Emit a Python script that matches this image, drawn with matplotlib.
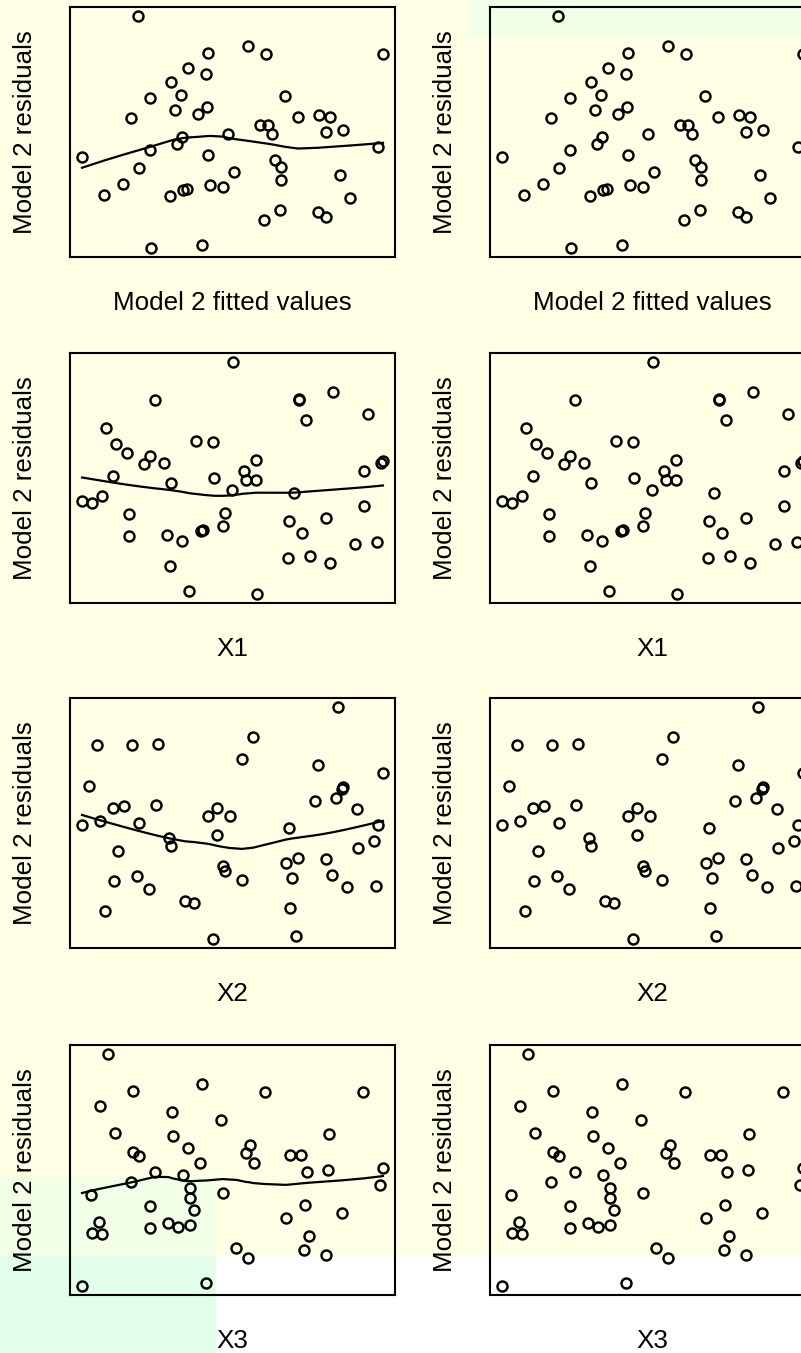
import numpy as np
import matplotlib
matplotlib.use("Agg")
import matplotlib.pyplot as plt
from matplotlib.patches import Rectangle

# Residuals of model 2 and the predictors they are plotted against
resid = np.array([
    2.52, 1.79, 1.92, 1.77, 1.77, 1.49, 1.36, 1.19, 0.94, 0.87,
    0.92, 0.64, 0.69, 0.55, 0.47, 0.33, 0.34, 0.15, 0.49, 0.53,
    0.50, 0.19, 0.24, 0.15, 0.09, -0.05, -0.16, -0.11, -0.31, -0.26,
    -0.53, -0.37, -0.51, -0.77, -0.61, -0.67, -0.84, -1.07, -1.09, -0.97,
    -0.95, -0.86, -0.91, -1.13, -1.37, -1.57, -1.41, -1.51, -2.13, -2.07])

fitted = np.array([
    2.15, 4.27, 5.45, 6.00, 9.50, 3.67, 4.20, 3.15, 3.45, 2.52,
    6.57, 3.26, 4.22, 3.96, 1.95, 5.80, 6.06, 6.18, 6.95, 7.57,
    7.92, 7.78, 8.30, 4.86, 3.48, 3.33, 2.53, 9.35, 0.48, 4.26,
    2.20, 6.26, 6.43, 6.45, 5.04, 8.20, 1.72, 1.13, 3.13, 3.50,
    3.63, 4.32, 4.70, 8.50, 6.40, 5.93, 7.55, 7.80, 2.55, 4.07])

x1 = np.array([
    4.98, 6.98, 8.00, 2.65, 6.98, 9.05, 7.18, 1.18, 3.87, 1.48,
    4.38, 2.50, 1.82, 5.70, 2.32, 8.93, 5.32, 5.38, 2.92, 9.50,
    9.45, 4.42, 1.38, 5.68, 3.12, 4.96, 1.06, 6.84, 0.76, 0.46,
    1.86, 8.93, 4.74, 4.68, 7.80, 6.68, 4.10, 3.45, 9.33, 1.88,
    3.00, 4.04, 7.06, 8.66, 7.32, 3.10, 6.64, 7.90, 5.73, 3.68])

x2 = np.array([
    8.16, 2.74, 5.60, 0.90, 1.95, 5.28, 7.54, 9.50, 0.68, 8.26,
    8.30, 7.45, 8.08, 2.68, 8.72, 4.90, 4.25, 9.36, 4.50, 1.72,
    1.38, 2.18, 1.00, 0.46, 6.68, 4.50, 9.22, 3.08, 8.76, 3.12,
    7.78, 1.55, 6.94, 4.76, 6.58, 4.70, 7.96, 9.28, 8.43, 1.42,
    5.26, 2.12, 6.78, 2.48, 3.56, 1.16, 3.82, 6.70, 4.38, 6.90])

x3 = np.array([
    1.25, 1.98, 4.07, 5.97, 8.90, 1.00, 3.15, 4.62, 1.45, 3.19,
    7.88, 3.65, 5.52, 2.00, 2.18, 4.00, 5.62, 7.23, 7.03, 5.40,
    6.72, 7.84, 9.50, 2.66, 3.50, 1.92, 3.70, 9.42, 0.72, 4.68,
    2.50, 3.70, 7.15, 6.58, 3.82, 8.28, 0.98, 0.76, 1.06, 2.50,
    3.33, 3.05, 3.70, 7.28, 5.10, 5.44, 7.12, 7.78, 0.46, 4.18])

predictors = [fitted, x1, x2, x3]
x_labels = ["Model 2 fitted values", "X1", "X2", "X3"]
y_label = "Model 2 residuals"


def lowess(x, y, f=2 / 3, iters=3):
    """Locally weighted linear smoother with robustness iterations."""
    order = np.argsort(x)
    x = np.asarray(x, float)[order]
    y = np.asarray(y, float)[order]
    n = len(x)
    ns = max(min(int(f * n + 1e-7), n), 2)
    rob = np.ones(n)
    ys = np.zeros(n)
    for it in range(iters + 1):
        for i in range(n):
            d = np.abs(x - x[i])
            h = np.sort(d)[ns - 1]
            if h <= 0:
                h = 1e-12
            u = d / h
            w = np.where(u < 0.999, (1 - np.clip(u, 0, 1) ** 3) ** 3, 0.0)
            w[u <= 0.001] = 1.0
            w = w * rob
            sw = w.sum()
            if sw <= 0:
                ys[i] = y[i]
                continue
            xm = (w * x).sum() / sw
            ym = (w * y).sum() / sw
            sxx = (w * (x - xm) ** 2).sum()
            if sxx > 1e-12:
                b = (w * (x - xm) * (y - ym)).sum() / sxx
            else:
                b = 0.0
            ys[i] = ym + b * (x[i] - xm)
        if it == iters:
            break
        res = y - ys
        cmad = 6 * np.median(np.abs(res))
        if cmad < 1e-12:
            break
        uu = res / cmad
        rob = np.where(np.abs(uu) < 1, (1 - uu ** 2) ** 2, 0.0)
    return x, ys


def padded(v):
    lo, hi = v.min(), v.max()
    p = 0.04 * (hi - lo)
    return lo - p, hi + p


W, H = 801, 1353
YELLOW = "#FFFFE6"
GREEN_A = "#F0FFE6"
GREEN_B = "#E2FFE9"

plt.rcParams["font.family"] = ["Liberation Sans", "DejaVu Sans"]
fig = plt.figure(figsize=(W / 100, H / 100), dpi=100, facecolor=YELLOW)


def px_rect(x0, y0, x1_, y1_, color):
    fig.patches.append(Rectangle((x0 / W, 1 - y1_ / H), (x1_ - x0) / W, (y1_ - y0) / H,
                                 transform=fig.transFigure, facecolor=color,
                                 edgecolor="none", zorder=-5))


px_rect(470, 0, W, 37, GREEN_A)
px_rect(0, 1177, 216, 1257, GREEN_A)
px_rect(0, 1257, 216, H, GREEN_B)
px_rect(216, 1257, W, H, "white")

panel_w, panel_h = 325, 250
tops = [7, 353, 698, 1045]
lefts = [70, 490]
ylim = padded(resid)
fs = 18.7

for row, (xv, lab) in enumerate(zip(predictors, x_labels)):
    for col, left in enumerate(lefts):
        top = tops[row]
        ax = fig.add_axes([left / W, 1 - (top + panel_h) / H, panel_w / W, panel_h / H])
        ax.set_facecolor("none")
        ax.set_zorder(1)
        ax.plot(xv, resid, linestyle="none", marker="o", mfc="none", mec="black",
                ms=7.2, mew=1.75)
        if col == 0:
            sx, sy = lowess(xv, resid)
            ax.plot(sx, sy, color="black", lw=1.6)
        ax.set_xlim(padded(xv))
        ax.set_ylim(ylim)
        ax.set_xticks([])
        ax.set_yticks([])
        for s in ax.spines.values():
            s.set_linewidth(1.5)
            s.set_color("black")
        fig.text((left + panel_w / 2) / W, 1 - (top + panel_h + 46) / H, lab,
                 ha="center", va="center", fontsize=fs, zorder=2)
        fig.text((left - 45) / W, 1 - (top + panel_h / 2) / H, y_label,
                 ha="center", va="center", rotation=90, fontsize=fs, zorder=2)

fig.savefig("out.png", dpi=100, facecolor=YELLOW)
